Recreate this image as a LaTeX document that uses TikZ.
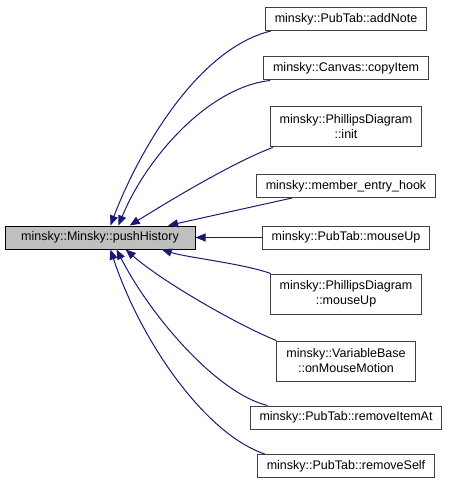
\documentclass[tikz,border=0pt]{standalone}
\usepackage{fontspec}
\setmainfont{Liberation Sans}
\usetikzlibrary{arrows.meta}

\definecolor{edgeblue}{HTML}{191970}
\definecolor{boxgrey}{HTML}{404040}

\begin{document}
\begin{tikzpicture}[
            x = 1pt, y = -1pt,
            > = {Triangle[length=10pt, width=8pt]},
            line width = 1pt
        ]

        \tikzstyle{func}=[
            draw = boxgrey,
            fill = white,
            font = \fontsize{12.5}{15}\selectfont,
            align = center,
            inner xsep = 9.5pt,
            inner ysep = 0pt,
            minimum height = 23pt
        ]
        \tikzset{twoline/.style={minimum height=40pt}}
        \tikzset{call/.style={<-, draw=edgeblue}}

        \useasboundingbox (0,0) rectangle (451,489);

        \node[func, fill=black!25, draw=black, minimum width=190pt] (main) at (100,237.5) {minsky::Minsky::pushHistory};

        \node[func] (addNote) at (346,19) {minsky::PubTab::addNote};
        \node[func] (copyItem) at (346,68.5) {minsky::Canvas::copyItem};
        \node[func, twoline] (phInit) at (346,127) {minsky::PhillipsDiagram\\::init};
        \node[func] (entryHook) at (346,186) {minsky::member\_entry\_hook};
        \node[func] (pubMouseUp) at (346,237.5) {minsky::PubTab::mouseUp};
        \node[func, twoline] (phMouseUp) at (346,294) {minsky::PhillipsDiagram\\::mouseUp};
        \node[func, twoline] (varMotion) at (346,361) {minsky::VariableBase\\::onMouseMotion};
        \node[func] (removeItem) at (346,417.5) {minsky::PubTab::removeItemAt};
        \node[func] (removeSelf) at (346,466) {minsky::PubTab::removeSelf};

        % callers above
        \draw[call] (main.49) .. controls +(25,-66) and +(-77,19) .. ([xshift=6pt]addNote.south west);
        \draw[call] (main.33) .. controls +(27,-66) and +(-63,7) .. ([xshift=7pt]copyItem.south west);
        \draw[call] (main.22) .. controls +(37,-23) and +(-40,15) .. ([xshift=3pt]phInit.south west);
        \draw[call] (main.10) -- (entryHook);
        \draw[call] (main.east) -- (pubMouseUp.west);

        % callers below
        \draw[call] (main.-11) .. controls +(25,8) and +(-28,-10) .. ([xshift=1pt]phMouseUp.north west);
        \draw[call] (main.-25) .. controls +(35,31) and +(-40,-16) .. (varMotion.north west);
        \draw[call] (main.-36) .. controls +(35,68) and +(-50,-12) .. ([xshift=18pt]removeItem.north west);
        \draw[call] (main.-49) .. controls +(30,91) and +(-60,-20) .. ([xshift=8pt]removeSelf.north west);

    \end{tikzpicture}
\end{document}
